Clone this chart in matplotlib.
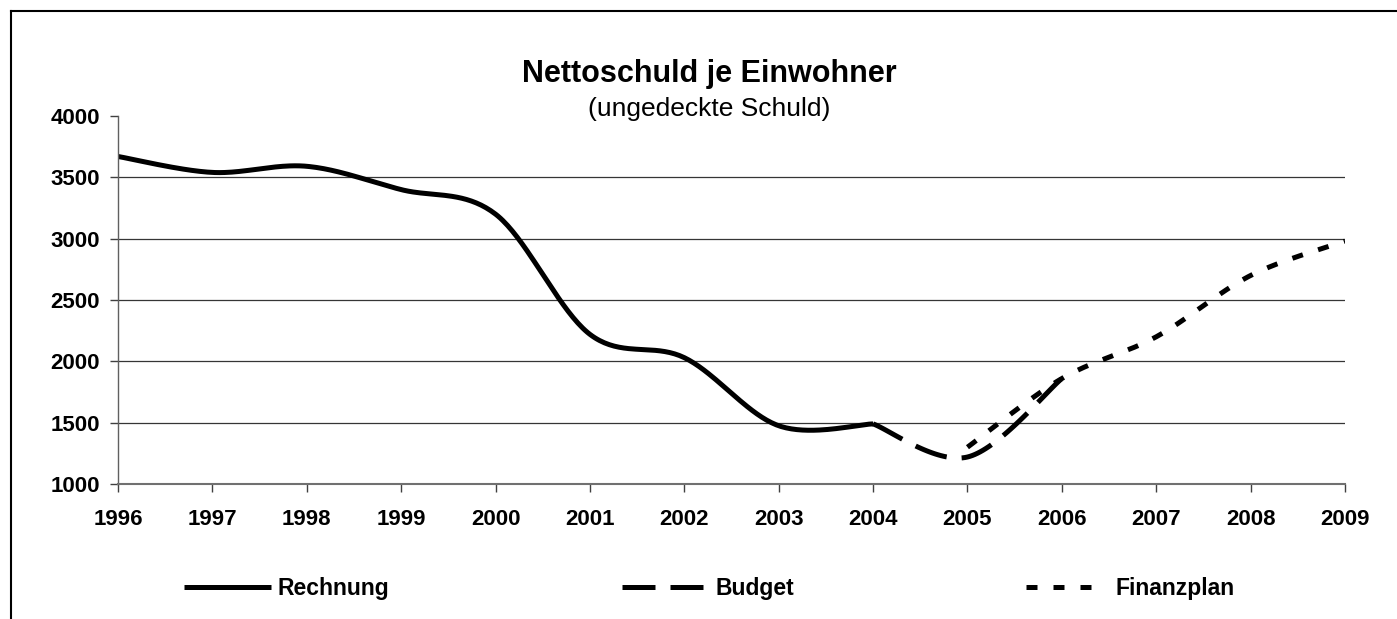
import numpy as np
import matplotlib
matplotlib.use('Agg')
import matplotlib.pyplot as plt
from matplotlib.lines import Line2D

plt.rcParams['font.family'] = ['Liberation Sans', 'DejaVu Sans']
plt.rcParams['lines.scale_dashes'] = False

years_rechnung = [1996, 1997, 1998, 1999, 2000, 2001, 2002, 2003, 2004]
rechnung = [3670, 3540, 3590, 3400, 3200, 2220, 2030, 1475, 1490]

years_budget = [2004, 2005, 2006]
budget = [1490, 1220, 1860]

years_finanz = [2005, 2006, 2007, 2008, 2009]
finanzplan = [1300, 1860, 2200, 2700, 2980]

year_ticks = list(range(1996, 2010))
y_ticks = [1000, 1500, 2000, 2500, 3000, 3500, 4000]


def smooth(xs, ys, n=40):
    # excel-style smoothed line (bezier through the points)
    p = np.column_stack([xs, ys]).astype(float)
    t = np.linspace(0, 1, n)[:, None]
    out = []
    for i in range(len(p) - 1):
        p0 = p[i - 1] if i > 0 else p[i]
        p1, p2 = p[i], p[i + 1]
        p3 = p[i + 2] if i + 2 < len(p) else p[i + 1]
        c1 = p1 + (p2 - p0) / 6
        c2 = p2 - (p3 - p1) / 6
        seg = (1 - t)**3 * p1 + 3 * (1 - t)**2 * t * c1 + 3 * (1 - t) * t**2 * c2 + t**3 * p2
        out.append(seg if i == 0 else seg[1:])
    out = np.vstack(out)
    return out[:, 0], out[:, 1]


W, H = 1397, 619
fig = plt.figure(figsize=(W / 100, H / 100), dpi=100)
ax = fig.add_axes([118 / W, 1 - 484 / H, (1345 - 118) / W, (484 - 116) / H])

lw = 5 * 0.72
px = 0.72
x, y = smooth(years_rechnung, rechnung)
ax.plot(x, y, color='black', lw=lw, solid_capstyle='butt', label='Rechnung')
x, y = smooth(years_budget, budget)
ax.plot(x, y, color='black', lw=lw, dashes=(33 * px, 15 * px), dash_capstyle='butt', label='Budget')
x, y = smooth(years_finanz, finanzplan)
ax.plot(x, y, color='black', lw=lw, dashes=(11 * px, 16 * px), dash_capstyle='butt', label='Finanzplan')

ax.set_xlim(1996, 2009)
ax.set_ylim(1000, 4000)
ax.set_xticks(year_ticks)
ax.set_yticks(y_ticks)
for v in y_ticks[1:-1]:
    ax.axhline(v, color='#353535', lw=0.9, zorder=0)

for s in ['top', 'right']:
    ax.spines[s].set_visible(False)
ax.spines['left'].set_color('#606060')
ax.spines['bottom'].set_color('#707070')
ax.spines['left'].set_linewidth(1.0)
ax.spines['bottom'].set_linewidth(1.5)
ax.tick_params(axis='x', length=6, width=1, color='#404040', pad=12, labelsize=16)
ax.tick_params(axis='y', length=6, width=1, color='#404040', pad=7, labelsize=16)
for lab in ax.get_xticklabels() + ax.get_yticklabels():
    lab.set_fontweight('bold')

fig.text(709 / W, 1 - 82 / H, 'Nettoschuld je Einwohner', ha='center', va='baseline',
         fontsize=22, fontweight='bold')
fig.text(709 / W, 1 - 116 / H, '(ungedeckte Schuld)', ha='center', va='baseline', fontsize=19)

# legend, three separate entries along the bottom
handles = ax.get_lines()
starts = [184, 622, 1026]
hlens = [3.8, 3.8, 3.0]
pads = [0.3, 0.3, 0.9]
for h, x0, hl, tp in zip(handles, starts, hlens, pads):
    fig.legend([h], [h.get_label()], loc='center left', bbox_to_anchor=(x0 / W, 1 - 589 / H),
               frameon=False, handlelength=hl, handletextpad=tp, borderpad=0, borderaxespad=0,
               prop={'weight': 'bold', 'size': 16.5})

# outer frame (only left and top edges fall inside the picture)
fig.add_artist(Line2D([10.5 / W, 10.5 / W], [0, 1 - 10.5 / H], color='black', lw=1.5))
fig.add_artist(Line2D([10.5 / W, 1], [1 - 10.5 / H, 1 - 10.5 / H], color='black', lw=1.5))

fig.savefig('out.png', dpi=100)
